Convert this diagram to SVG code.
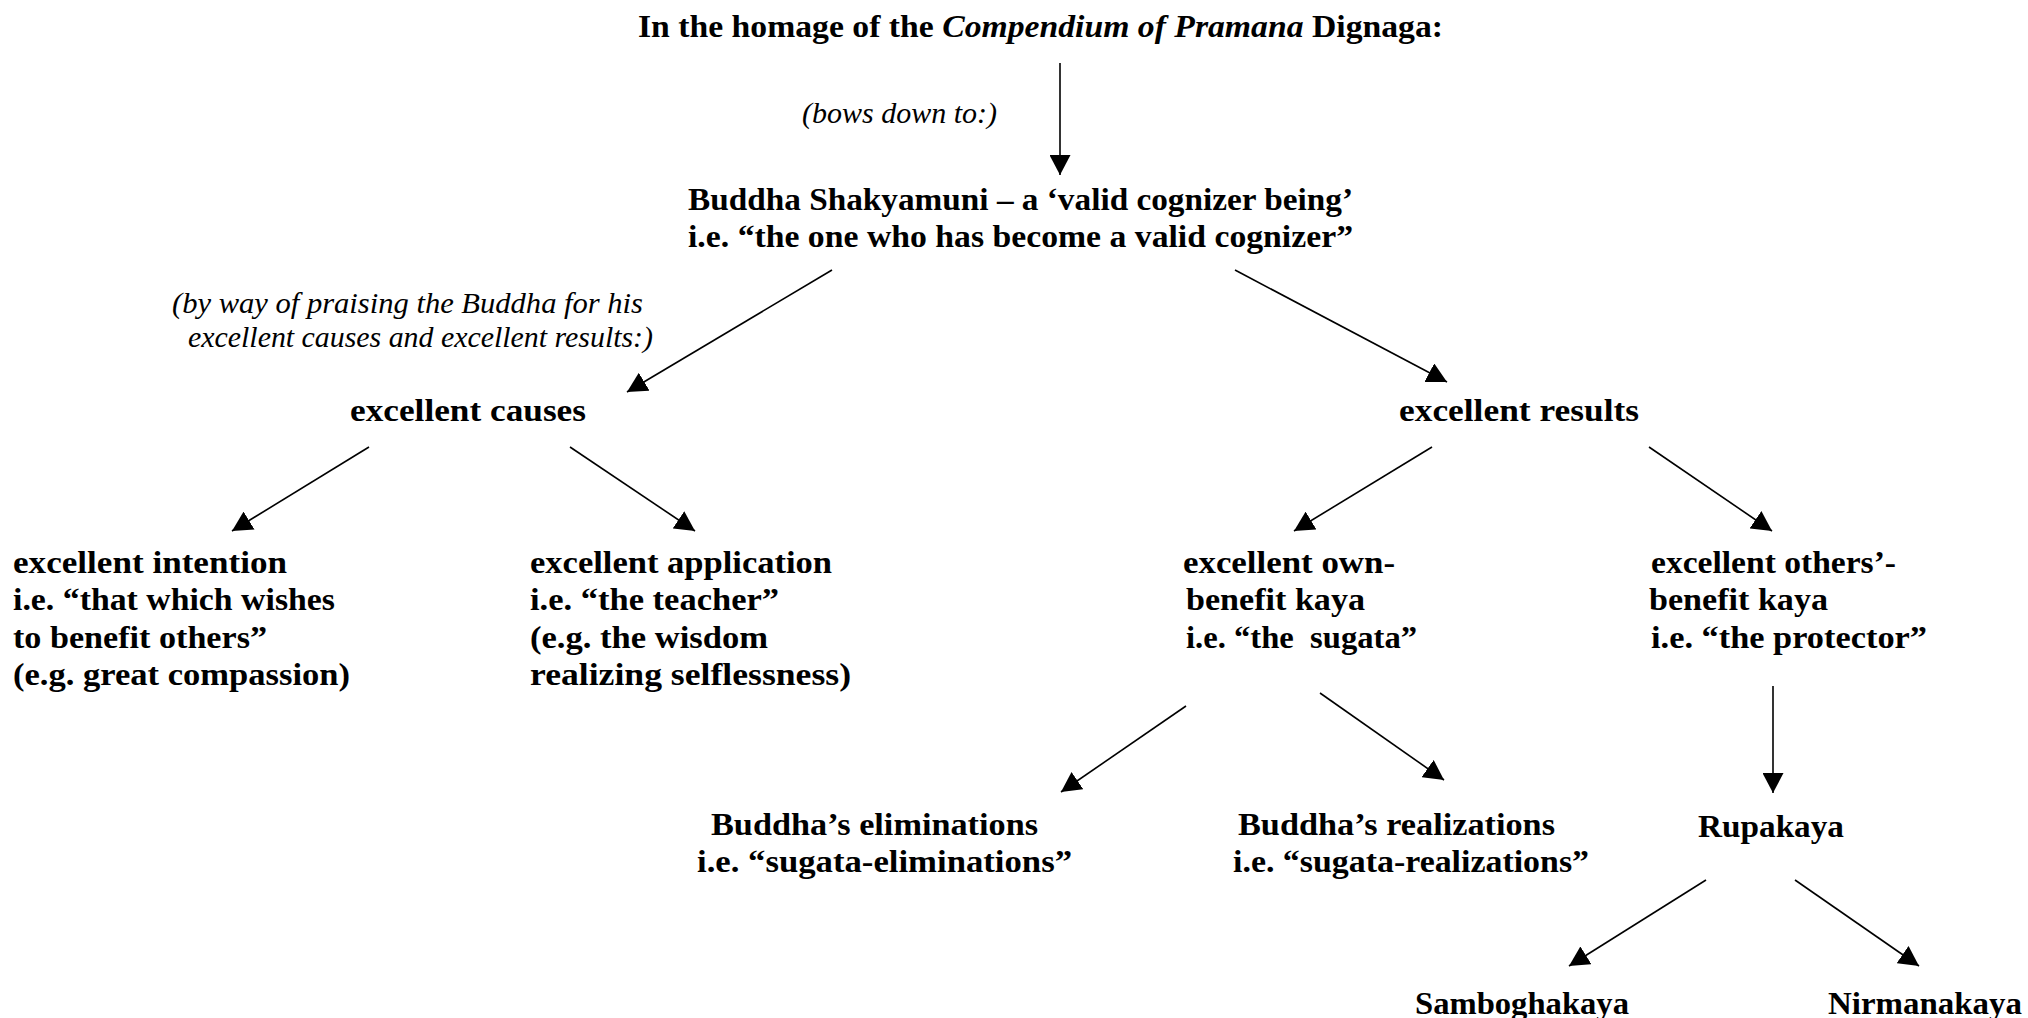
<svg xmlns="http://www.w3.org/2000/svg" width="2028" height="1018" viewBox="0 0 2028 1018">
<style>
.b{font-family:"Liberation Serif","Times New Roman",serif;font-weight:bold;font-size:32px;fill:#000}
.i{font-family:"Liberation Serif","Times New Roman",serif;font-style:italic;font-size:30px;fill:#000}
.bi{font-style:italic}
.c{stroke:#000;stroke-width:1.6;fill:none;marker-end:url(#ah)}
</style>
<defs>
<marker id="ah" markerUnits="userSpaceOnUse" markerWidth="21" markerHeight="21" refX="20" refY="10.5" orient="auto" viewBox="0 0 21 21">
<path d="M0,0 L20,10.5 L0,21 z" fill="#000"/>
</marker>
</defs>
<rect width="2028" height="1018" fill="#fff"/>

<g id="title">
<text class="b" x="638" y="37" textLength="805" lengthAdjust="spacingAndGlyphs">In the homage of the <tspan class="bi">Compendium of Pramana</tspan> Dignaga:</text>
</g>
<g id="label-bows">
<text class="i" x="802" y="123">(bows down to:)</text>
</g>
<g id="buddha">
<text class="b" x="688" y="210" textLength="665" lengthAdjust="spacingAndGlyphs">Buddha Shakyamuni – a ‘valid cognizer being’</text>
<text class="b" x="688" y="247" textLength="665" lengthAdjust="spacingAndGlyphs">i.e. “the one who has become a valid cognizer”</text>
</g>
<g id="label-praising">
<text class="i" x="172" y="313" textLength="471" lengthAdjust="spacingAndGlyphs">(by way of praising the Buddha for his</text>
<text class="i" x="188" y="347" textLength="465" lengthAdjust="spacingAndGlyphs">excellent causes and excellent results:)</text>
</g>
<g id="causes">
<text class="b" x="350" y="421" textLength="236" lengthAdjust="spacingAndGlyphs">excellent causes</text>
</g>
<g id="results">
<text class="b" x="1399" y="421" textLength="240" lengthAdjust="spacingAndGlyphs">excellent results</text>
</g>
<g id="intention">
<text class="b" x="13" y="573" textLength="274" lengthAdjust="spacingAndGlyphs">excellent intention</text>
<text class="b" x="13" y="610" textLength="322" lengthAdjust="spacingAndGlyphs">i.e. “that which wishes</text>
<text class="b" x="13" y="648" textLength="254" lengthAdjust="spacingAndGlyphs">to benefit others”</text>
<text class="b" x="13" y="685" textLength="337" lengthAdjust="spacingAndGlyphs">(e.g. great compassion)</text>
</g>
<g id="application">
<text class="b" x="530" y="573" textLength="302" lengthAdjust="spacingAndGlyphs">excellent application</text>
<text class="b" x="530" y="610" textLength="249" lengthAdjust="spacingAndGlyphs">i.e. “the teacher”</text>
<text class="b" x="530" y="648" textLength="238" lengthAdjust="spacingAndGlyphs">(e.g. the wisdom</text>
<text class="b" x="530" y="685" textLength="321" lengthAdjust="spacingAndGlyphs">realizing selflessness)</text>
</g>
<g id="own-benefit">
<text class="b" x="1183" y="573" textLength="212" lengthAdjust="spacingAndGlyphs">excellent own-</text>
<text class="b" x="1186" y="610" textLength="179" lengthAdjust="spacingAndGlyphs">benefit kaya</text>
<text class="b" x="1186" y="648" textLength="231" lengthAdjust="spacingAndGlyphs" xml:space="preserve">i.e. “the  sugata”</text>
</g>
<g id="others-benefit">
<text class="b" x="1651" y="573" textLength="245" lengthAdjust="spacingAndGlyphs">excellent others’-</text>
<text class="b" x="1649" y="610" textLength="179" lengthAdjust="spacingAndGlyphs">benefit kaya</text>
<text class="b" x="1651" y="648" textLength="276" lengthAdjust="spacingAndGlyphs">i.e. “the protector”</text>
</g>
<g id="eliminations">
<text class="b" x="711" y="835" textLength="327" lengthAdjust="spacingAndGlyphs">Buddha’s eliminations</text>
<text class="b" x="697" y="872" textLength="375" lengthAdjust="spacingAndGlyphs">i.e. “sugata-eliminations”</text>
</g>
<g id="realizations">
<text class="b" x="1238" y="835" textLength="317" lengthAdjust="spacingAndGlyphs">Buddha’s realizations</text>
<text class="b" x="1233" y="872" textLength="356" lengthAdjust="spacingAndGlyphs">i.e. “sugata-realizations”</text>
</g>
<g id="rupakaya">
<text class="b" x="1698" y="837" textLength="146" lengthAdjust="spacingAndGlyphs">Rupakaya</text>
</g>
<g id="samboghakaya">
<text class="b" x="1415" y="1014" textLength="214" lengthAdjust="spacingAndGlyphs">Samboghakaya</text>
</g>
<g id="nirmanakaya">
<text class="b" x="1828" y="1014" textLength="194" lengthAdjust="spacingAndGlyphs">Nirmanakaya</text>
</g>

<g id="connectors">
<line class="c" x1="1060" y1="63" x2="1060" y2="175"/>
<line class="c" x1="832" y1="270" x2="627" y2="392"/>
<line class="c" x1="1235" y1="270" x2="1447" y2="382"/>
<line class="c" x1="369" y1="447" x2="232" y2="531"/>
<line class="c" x1="570" y1="447" x2="695" y2="531"/>
<line class="c" x1="1432" y1="447" x2="1294" y2="531"/>
<line class="c" x1="1649" y1="447" x2="1772" y2="531"/>
<line class="c" x1="1186" y1="706" x2="1061" y2="792"/>
<line class="c" x1="1320" y1="693" x2="1444" y2="780"/>
<line class="c" x1="1773" y1="686" x2="1773" y2="793"/>
<line class="c" x1="1706" y1="880" x2="1569" y2="966"/>
<line class="c" x1="1795" y1="880" x2="1919" y2="966"/>
</g>
</svg>
